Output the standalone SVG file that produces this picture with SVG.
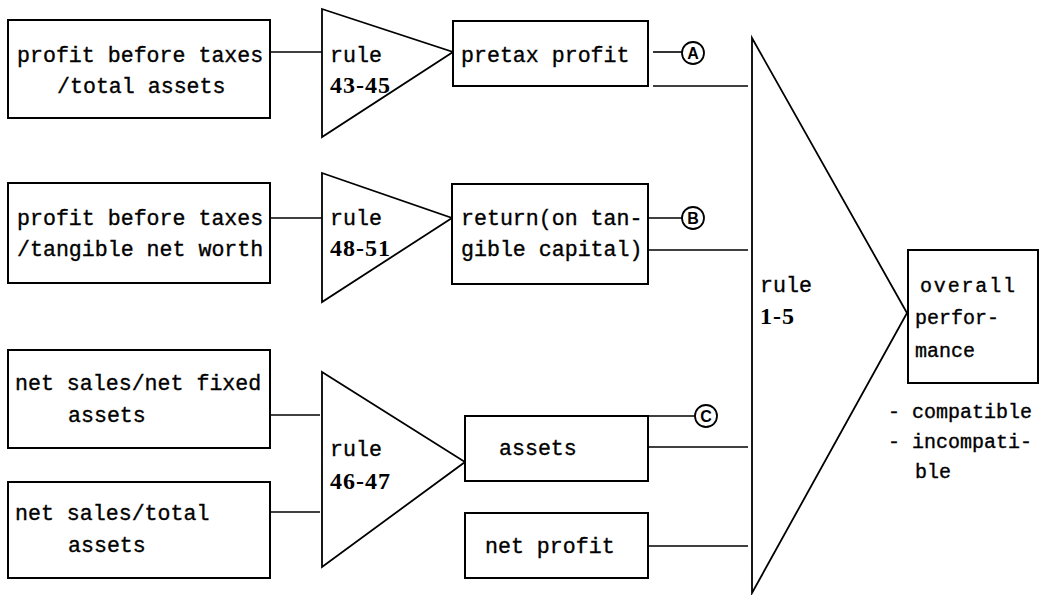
<svg xmlns="http://www.w3.org/2000/svg" width="1051" height="595" viewBox="0 0 1051 595">
  <style>
    .box { fill: #fff; stroke: #000; stroke-width: 2; }
    .tri { fill: #fff; stroke: #000; stroke-width: 1.8; stroke-linejoin: miter; }
    .ln { stroke: #000; stroke-width: 1.6; fill: none; }
    .t { font-family: "Liberation Mono", "DejaVu Sans Mono", monospace; font-size: 21.6px; fill: #000; stroke: #000; stroke-width: 0.35; }
    .s { font-size: 20px; }
    .n { font-family: "Liberation Serif", "DejaVu Serif", serif; font-size: 24px; font-weight: bold; letter-spacing: 1px; fill: #000; }
    .mk { fill: #fff; stroke: #000; stroke-width: 1.8; }
    .mt { font-family: "Liberation Sans", Arial, sans-serif; font-size: 16px; font-weight: bold; fill: #000; text-anchor: middle; }
  </style>

  <!-- connectors -->
  <g id="connectors">
    <line class="ln" x1="270" y1="52" x2="322" y2="52"/>
    <line class="ln" x1="270" y1="218" x2="322" y2="218"/>
    <line class="ln" x1="270" y1="415" x2="320" y2="415"/>
    <line class="ln" x1="270" y1="512" x2="320" y2="512"/>
    <line class="ln" x1="653" y1="52" x2="682" y2="52"/>
    <line class="ln" x1="653" y1="86" x2="748" y2="86"/>
    <line class="ln" x1="648" y1="218" x2="682" y2="218"/>
    <line class="ln" x1="648" y1="250" x2="748" y2="250"/>
    <line class="ln" x1="648" y1="416" x2="695" y2="416"/>
    <line class="ln" x1="648" y1="447" x2="748" y2="447"/>
    <line class="ln" x1="648" y1="546" x2="748" y2="546"/>
  </g>

  <!-- off-page markers -->
  <g id="marker-a">
    <circle class="mk" cx="693" cy="53" r="11"/>
    <text class="mt" x="693" y="59">A</text>
  </g>
  <g id="marker-b">
    <circle class="mk" cx="693" cy="218" r="11"/>
    <text class="mt" x="693" y="224">B</text>
  </g>
  <g id="marker-c">
    <circle class="mk" cx="706" cy="416" r="11"/>
    <text class="mt" x="706" y="422">C</text>
  </g>

  <!-- input ratios -->
  <g id="ratio-pbt-ta">
    <rect class="box" x="8" y="20" width="262" height="98"/>
    <text class="t" x="17" y="62">profit before taxes</text>
    <text class="t" x="57" y="93">/total assets</text>
  </g>
  <g id="ratio-pbt-tnw">
    <rect class="box" x="8" y="183" width="262" height="100"/>
    <text class="t" x="17" y="225">profit before taxes</text>
    <text class="t" x="17" y="256">/tangible net worth</text>
  </g>
  <g id="ratio-ns-nfa">
    <rect class="box" x="8" y="350" width="262" height="98"/>
    <text class="t" x="15" y="390">net sales/net fixed</text>
    <text class="t" x="68" y="422">assets</text>
  </g>
  <g id="ratio-ns-ta">
    <rect class="box" x="8" y="482" width="262" height="96"/>
    <text class="t" x="15" y="520">net sales/total</text>
    <text class="t" x="68" y="552">assets</text>
  </g>

  <!-- rule blocks -->
  <g id="rule-43-45">
    <polygon class="tri" points="322,9 453,52 322,137"/>
    <text class="t" x="330" y="62">rule</text>
    <text class="n" x="330" y="93">43-45</text>
  </g>
  <g id="rule-48-51">
    <polygon class="tri" points="322,173 452,218 322,302"/>
    <text class="t" x="330" y="225">rule</text>
    <text class="n" x="330" y="256">48-51</text>
  </g>
  <g id="rule-46-47">
    <polygon class="tri" points="322,372 465,462 322,567"/>
    <text class="t" x="330" y="456">rule</text>
    <text class="n" x="330" y="489">46-47</text>
  </g>

  <!-- intermediate concepts -->
  <g id="pretax-profit">
    <rect class="box" x="453" y="21" width="195" height="65"/>
    <text class="t" x="461" y="62">pretax profit</text>
  </g>
  <g id="return-tangible">
    <rect class="box" x="452" y="184" width="196" height="100"/>
    <text class="t" x="461" y="225">return(on tan-</text>
    <text class="t" x="461" y="256">gible capital)</text>
  </g>
  <g id="assets">
    <rect class="box" x="465" y="416" width="183" height="65"/>
    <text class="t" x="499" y="455">assets</text>
  </g>
  <g id="net-profit">
    <rect class="box" x="465" y="513" width="183" height="65"/>
    <text class="t" x="485" y="553">net profit</text>
  </g>

  <!-- final rule block -->
  <g id="rule-1-5">
    <polygon class="tri" points="752,38 907,313 752,593"/>
    <text class="t" x="760" y="292">rule</text>
    <text class="n" x="760" y="324">1-5</text>
  </g>

  <!-- conclusion -->
  <g id="overall-performance">
    <rect class="box" x="908" y="250" width="130" height="133"/>
    <text class="t s" x="920" y="292" textLength="95">overall</text>
    <text class="t s" x="915" y="324">perfor-</text>
    <text class="t s" x="915" y="357">mance</text>
  </g>
  <g id="outcomes">
    <text class="t s" x="888" y="418">- compatible</text>
    <text class="t s" x="888" y="448">- incompati-</text>
    <text class="t s" x="915" y="478">ble</text>
  </g>
</svg>
